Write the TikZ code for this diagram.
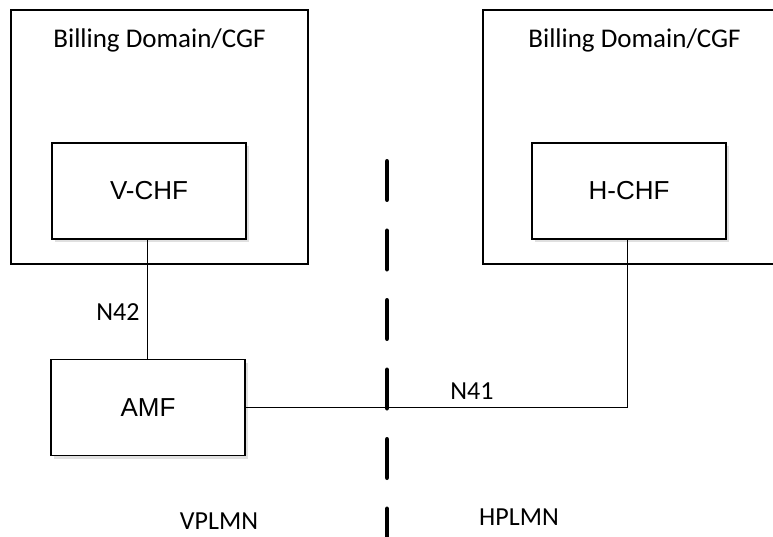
\documentclass[tikz,border=0pt]{standalone}
\usepackage{fontspec}
\setmainfont{Carlito}
\newfontfamily\arialfont{Liberation Sans}
\usetikzlibrary{shadows}
\begin{document}
\begin{tikzpicture}[x=1pt,y=-1pt,
  outerbox/.style={draw=black,line width=1.3pt},
  funcbox/.style={draw=black,line width=1.3pt,fill=white,minimum width=194pt,minimum height=96pt,inner sep=0pt,
    font=\arialfont\fontsize{26}{30}\selectfont,
    drop shadow={shadow xshift=3pt,shadow yshift=-3pt,fill=black!12,opacity=1}},
  lbl/.style={inner sep=0pt,font=\fontsize{26}{30}\selectfont},
  conn/.style={draw=black,line width=1pt},
  sep/.style={draw=black,line width=4.5pt,line cap=round,dash pattern=on 38.5pt off 31pt}]
\useasboundingbox (0,0) rectangle (773,537);
\fill[white] (0,0) rectangle (773,537);
% outer boxes
\draw[outerbox] (11,10) rectangle (308,264);
\draw[outerbox] (773,10) -- (483,10) -- (483,264) -- (773,264);
\node[lbl,font=\fontsize{27}{30}\selectfont] (bd1) at (159.5,40) {Billing Domain/CGF};
\node[lbl,font=\fontsize{27}{30}\selectfont] (bd2) at (634.5,40) {Billing Domain/CGF};
% function boxes
\node[funcbox] (vchf) at (149,191) {V-CHF};
\node[funcbox] (hchf) at (629,191) {H-CHF};
\node[funcbox] (amf) at (148,407.5) {AMF};
% separator
\coordinate (septop) at (387,161.25);
\coordinate (sepbot) at (387,545);
\draw[sep] (septop) -- (sepbot);
% connectors
\draw[conn] (vchf.south -| 147,0) -- (amf.north -| 147,0);
\draw[conn] (amf.east) -- (amf.east -| 627,0) -- (hchf.south -| 627,0);
% labels
\node[lbl] (n42) at (118,312) {N42};
\node[lbl] (n41) at (472,391) {N41};
\node[lbl] (vp) at (219,521) {VPLMN};
\node[lbl] (hp) at (519,517) {HPLMN};
\end{tikzpicture}
\end{document}
